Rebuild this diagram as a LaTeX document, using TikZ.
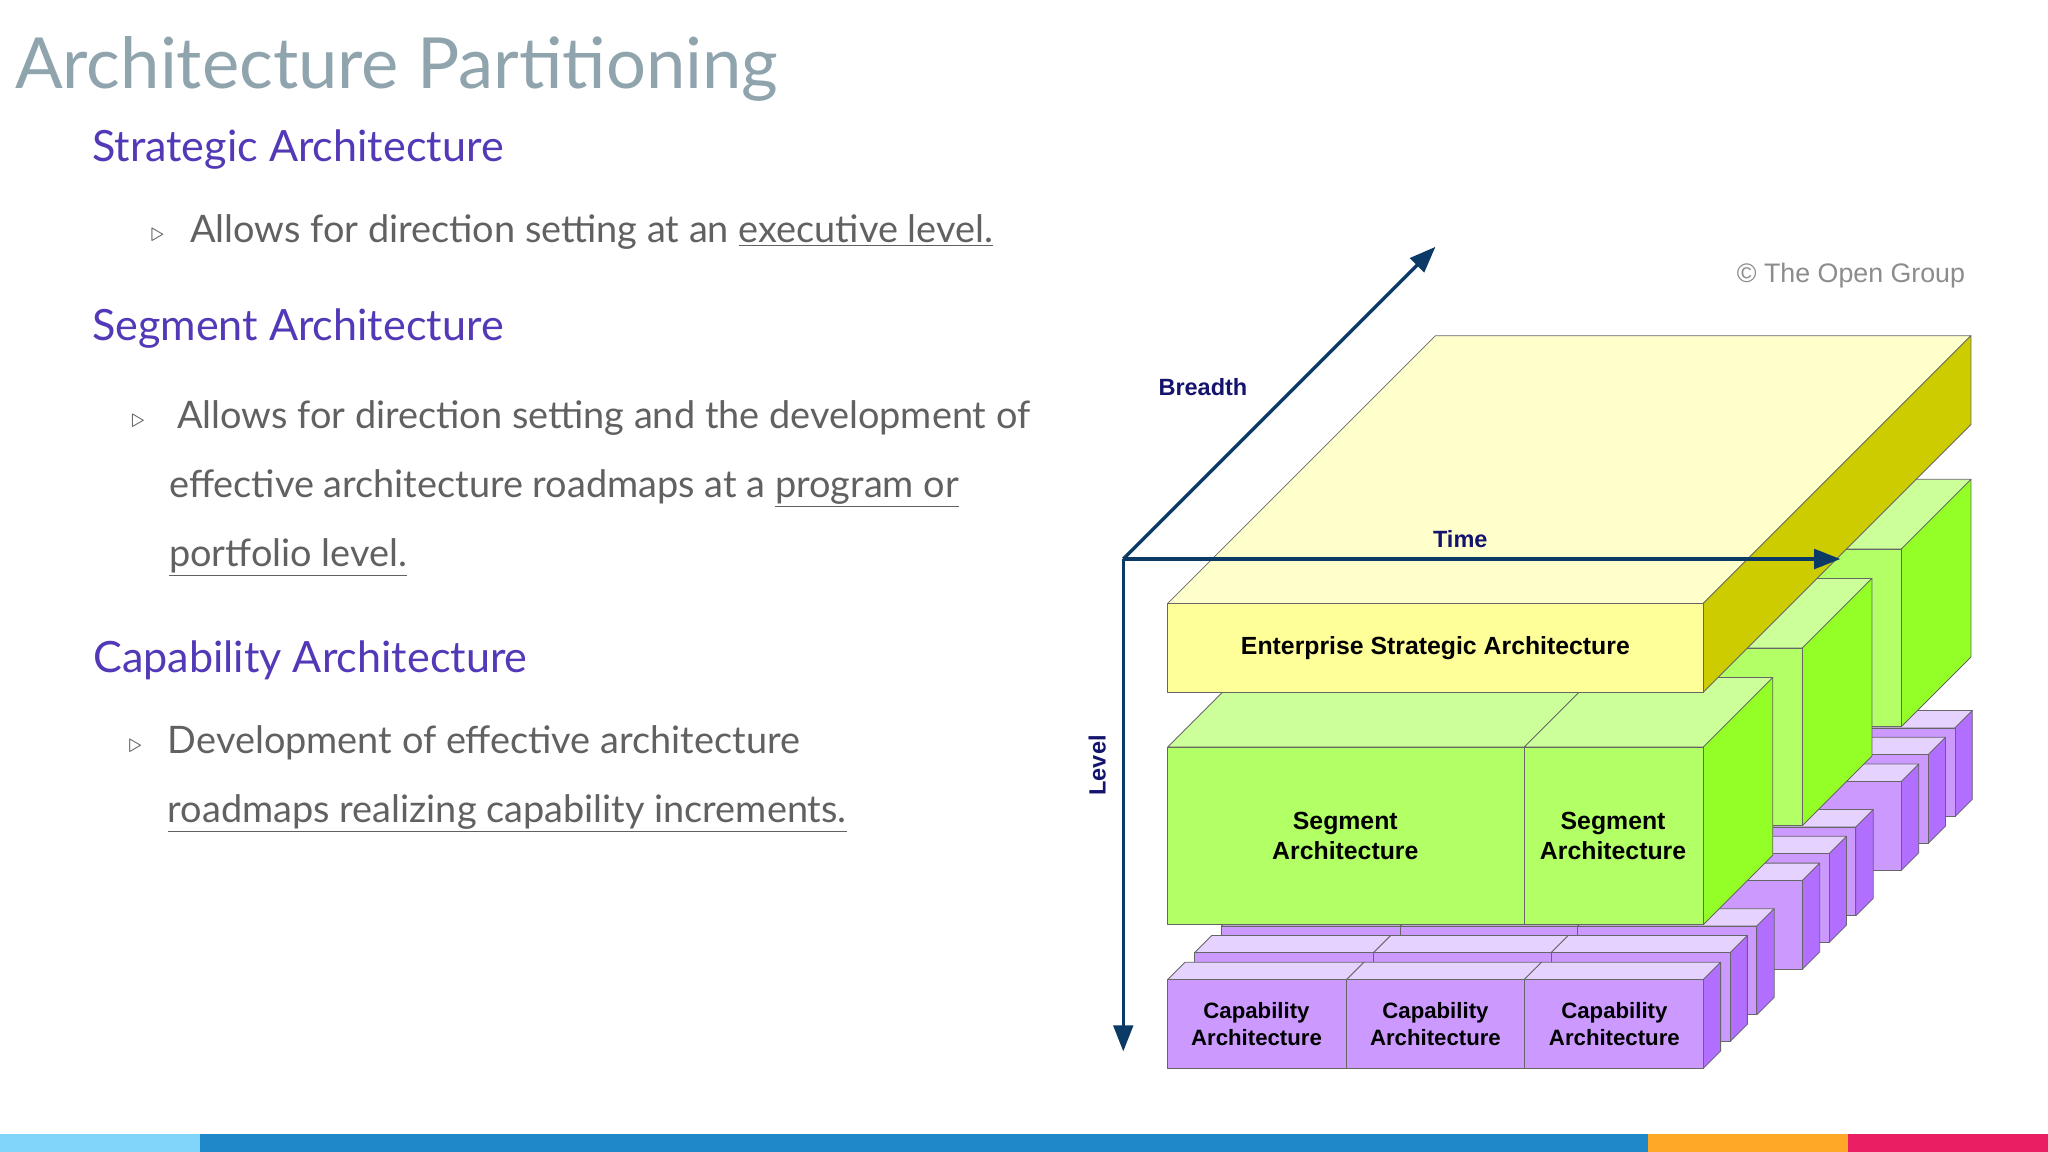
\documentclass[tikz,border=0pt]{standalone}
\usepackage{fontspec}
\setmainfont{Lato}
\newfontfamily\arial{Liberation Sans}
\usetikzlibrary{calc,arrows.meta}
\definecolor{ttlGray}{RGB}{144,164,174}
\definecolor{hdPurple}{RGB}{83,57,183}
\definecolor{txGray}{RGB}{97,97,97}
\definecolor{axBlue}{RGB}{11,58,102}
\definecolor{lblNavy}{RGB}{20,20,110}
\definecolor{esaF}{RGB}{255,255,153}
\definecolor{esaT}{RGB}{255,255,204}
\definecolor{esaR}{RGB}{204,204,0}
\definecolor{segF}{RGB}{179,255,102}
\definecolor{segT}{RGB}{204,255,153}
\definecolor{segR}{RGB}{148,255,38}
\definecolor{capF}{RGB}{204,153,255}
\definecolor{capT}{RGB}{230,210,255}
\definecolor{capR}{RGB}{178,110,255}
\definecolor{barA}{RGB}{129,212,250}
\definecolor{barB}{RGB}{30,136,200}
\definecolor{barC}{RGB}{255,167,38}
\definecolor{barD}{RGB}{233,30,99}
\tikzset{
  face/.style={draw=black!60, line width=0.6pt, line join=round},
  heading/.style={anchor=base west, font=\fontsize{33}{38}\selectfont, text=hdPurple},
  body/.style={anchor=base west, font=\fontsize{29}{34}\selectfont, text=txGray},
  bul/.style={anchor=base west, font=\fontsize{22}{24}\selectfont, text=txGray},
  axis/.style={draw=axBlue, line width=2.5pt, -{Triangle[length=20pt,width=15pt]}},
  axlbl/.style={font=\arial\bfseries\fontsize{18}{20}\selectfont, text=lblNavy},
  blklbl/.style 2 args={font=\arial\bfseries\fontsize{#1}{#2}\selectfont, align=center, text=black},
}
% oblique point: x, level y, depth z
\def\P#1#2#3{($(#1,#2)+#3*(205,-205)$)}
% block: x1 x2 ytop ybot z1 z2 colour-prefix
\newcommand\blk[7]{%
  \fill[face, fill=#7T] \P{#1}{#3}{#5} -- \P{#2}{#3}{#5} -- \P{#2}{#3}{#6} -- \P{#1}{#3}{#6} -- cycle;
  \fill[face, fill=#7R] \P{#2}{#3}{#5} -- \P{#2}{#3}{#6} -- \P{#2}{#4}{#6} -- \P{#2}{#4}{#5} -- cycle;
  \fill[face, fill=#7F] \P{#1}{#3}{#5} -- \P{#2}{#3}{#5} -- \P{#2}{#4}{#5} -- \P{#1}{#4}{#5} -- cycle;
}
\newcommand\caprow[1]{%
  \blk{894}{1031}{750}{818}{#1}{#1+0.065}{cap}%
  \blk{1031}{1167}{750}{818}{#1}{#1+0.065}{cap}%
  \blk{1167}{1304}{750}{818}{#1}{#1+0.065}{cap}%
}
\newcommand\segrow[1]{%
  \blk{894}{1167}{572}{708}{#1}{#1+0.26}{seg}%
  \blk{1167}{1304}{572}{708}{#1}{#1+0.26}{seg}%
}
\begin{document}
\begin{tikzpicture}[x=1pt,y=-1pt]
\useasboundingbox (0,0) rectangle (1568,882);
\fill[white] (0,0) rectangle (1568,882);

% bottom bar
\fill[barA] (0,868) rectangle (153,882);
\fill[barB] (153,868) rectangle (1262,882);
\fill[barC] (1262,868) rectangle (1415,882);
\fill[barD] (1415,868) rectangle (1568,882);

% left text
\node[anchor=base west, font=\fontsize{54}{60}\selectfont, text=ttlGray] (title) at (8,68) {Architecture Partitioning};
\node[heading] (h1) at (67,124) {Strategic Architecture};
\node[bul] (b1) at (112,185) {$\triangleright$};
\node[body] (t1) at (142,186) {Allows for direction setting at an \underline{executive level.}};
\node[heading] (h2) at (67,261) {Segment Architecture};
\node[bul] (b2) at (97,327) {$\triangleright$};
\node[body] (t2a) at (132,328) {Allows for direction setting and the development of};
\node[body] (t2b) at (126,381) {effective architecture roadmaps at a \underline{program or}};
\node[body] (t2c) at (126,434) {\underline{portfolio level.}};
\node[heading] (h3) at (68,515) {Capability Architecture};
\node[bul] (b3) at (95,576) {$\triangleright$};
\node[body] (t3a) at (125,577) {Development of effective architecture};
\node[body] (t3b) at (125,630) {\underline{roadmaps realizing capability increments.}};

% copyright
\node[anchor=base east, font=\arial\fontsize{20.5}{22}\selectfont, text=black!45] (copy) at (1508,216) {\textcopyright{} The Open Group};

% blocks, back to front
\caprow{0.94}\caprow{0.84}\caprow{0.74}
\segrow{0.74}
\caprow{0.57}\caprow{0.47}\caprow{0.37}
\segrow{0.37}
\caprow{0.2}\caprow{0.1}
\segrow{0}
\caprow{0}
\blk{894}{1304}{462}{530}{0}{1}{esa}

% labels
\node[blklbl={19}{23}] (esa) at (1099,496) {Enterprise Strategic Architecture};
\node[blklbl={19}{23}] (seg1) at (1030,640) {Segment\\Architecture};
\node[blklbl={19}{23}] (seg2) at (1235,640) {Segment\\Architecture};
\node[blklbl={17}{20}] (cap1) at (962,784) {Capability\\Architecture};
\node[blklbl={17}{20}] (cap2) at (1099,784) {Capability\\Architecture};
\node[blklbl={17}{20}] (cap3) at (1236,784) {Capability\\Architecture};

% axes
\coordinate (o) at (860,428);
\coordinate (br) at (1099,189);
\coordinate (tm) at (1409,428);
\coordinate (lv) at (860,805);
\draw[axis] (o) -- (br);
\draw[axis] (o) -- (tm);
\draw[axis] (o) -- (lv);
\node[axlbl] (lbr) at (921,296) {Breadth};
\node[axlbl] (ltm) at (1118,413) {Time};
\node[axlbl, rotate=90] (llv) at (840,586) {Level};
\end{tikzpicture}
\end{document}
